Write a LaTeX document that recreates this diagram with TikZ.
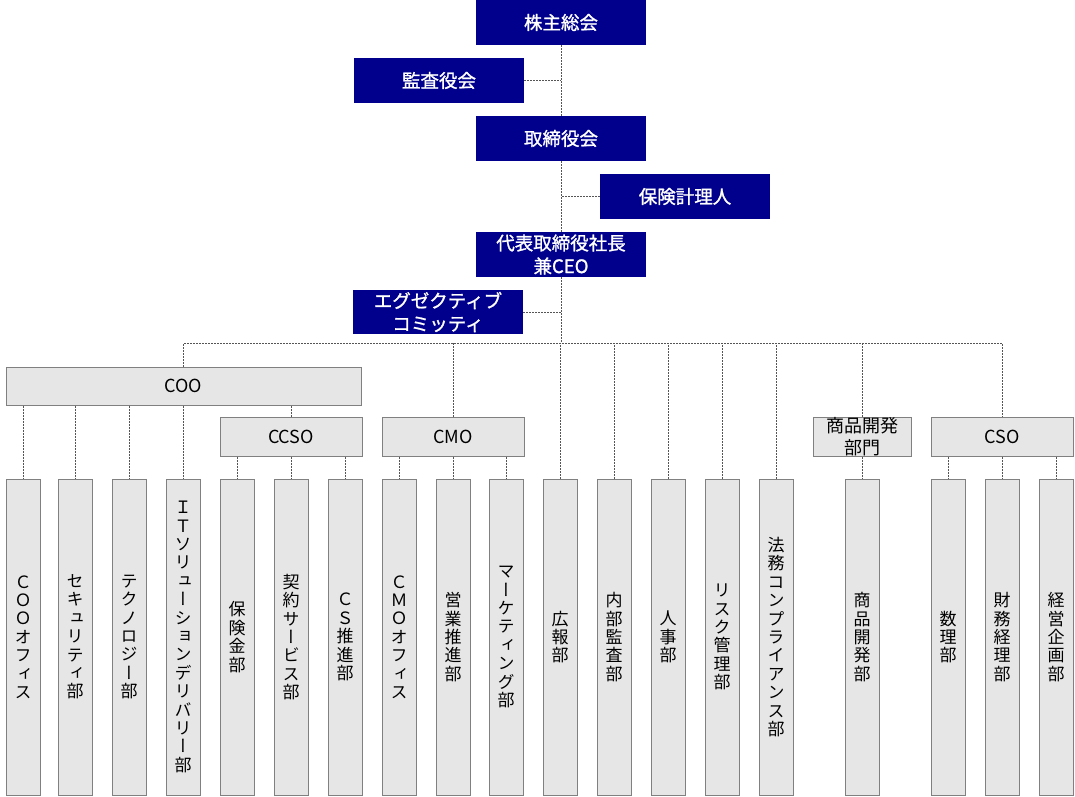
\documentclass[tikz,border=0pt]{standalone}
\usepackage{fontspec}
\usepackage{tikz}
\setmainfont{Noto Sans CJK JP}
\newfontfamily\tatefont[RawFeature=+vert]{Noto Sans CJK JP}
\newfontfamily\boardfont[FakeBold=1.2]{Noto Sans CJK JP}
\definecolor{boardblue}{RGB}{0,0,140}
\definecolor{boxfill}{RGB}{230,230,230}
\definecolor{boxline}{RGB}{128,128,128}
\definecolor{linkgray}{RGB}{85,85,85}
\def\tate#1{\tateaux#1\tateend}
\def\tateaux#1#2\tateend{#1\ifx\tateend#2\tateend\else\\\tateaux#2\tateend\fi}
\tikzset{
    topbox/.style={fill=boardblue,text=white,inner sep=0pt,minimum width=170pt,minimum height=45pt,align=center,font=\boardfont\fontsize{18.5}{23}\selectfont},
    headbox/.style={draw=boxline,fill=boxfill,line width=1pt,inner sep=0pt,minimum height=39pt,align=center,font=\fontsize{18}{21.5}\selectfont},
    deptbox/.style={draw=boxline,fill=boxfill,line width=1pt,inner sep=0pt,minimum width=34pt,minimum height=316pt,align=center,font=\tatefont\fontsize{17}{18.4}\selectfont},
    link/.style={draw=linkgray,line width=0.8pt,dash pattern=on 2pt off 1pt}
}

\begin{document}
\begin{tikzpicture}[x=1pt,y=-1pt]
                \useasboundingbox (0,0) rectangle (1075,796);
                \node[topbox] (gm) at (561,22.5) {株主総会};
                \node[topbox] (audit) at (439,80.5) {監査役会};
                \node[topbox] (bod) at (561,138.5) {取締役会};
                \node[topbox] (actuary) at (685,196.5) {保険計理人};
                \node[topbox] (ceo) at (561,254.5) {代表取締役社長\\兼CEO};
                \node[topbox,minimum height=44pt] (exec) at (438,312) {エグゼクティブ\\コミッティ};
                \coordinate (bus) at (561,343);

                \node[headbox,minimum width=355pt,minimum height=38pt] (coo) at (183.5,386) {COO};
                \node[headbox,minimum width=142pt] (ccso) at (291,436.5) {CCSO};
                \node[headbox,minimum width=142pt] (cmo) at (453,436.5) {CMO};
                \node[headbox,minimum width=98pt] (pdg) at (862,436.5) {商品開発\\部門};
                \node[headbox,minimum width=142pt] (cso) at (1002,436.5) {CSO};

                \foreach \n/\x/\t in {1/23/ＣＯＯオフィス,2/75/セキュリティ部,3/129/テクノロジー部,
                    4/183/ＩＴソリューションデリバリー部,5/237/保険金部,6/291/契約サービス部,
                    7/345/ＣＳ推進部,8/399/ＣＭＯオフィス,9/453/営業推進部,10/506/マーケティング部,
                    11/560/広報部,12/614/内部監査部,13/668/人事部,14/722/リスク管理部,
                    15/776/法務コンプライアンス部,16/862/商品開発部,17/948/数理部,
                    18/1002/財務経理部,19/1056/経営企画部}
                    \node[deptbox] (d\n) at (\x,637) {\expandafter\tate\expandafter{\t}};

                \draw[link] (gm) -- (bod);
                \draw[link] (bod) -- (ceo);
                \draw[link] (ceo) -- (bus);
                \draw[link] (audit.east) -- (audit.east -| gm.south);
                \draw[link] (actuary.west) -- (actuary.west -| gm.south);
                \draw[link] (exec.east) -- (exec.east -| gm.south);
                \draw[link] (coo.north) |- (bus) -| (cso.north);
                \draw[link] (cmo.north) -- (cmo.north |- bus);
                \draw[link] (pdg.north) -- (pdg.north |- bus);
                \draw[link] (pdg) -- (d16);
                \foreach \n in {11,...,15}
                    \draw[link] (d\n.north) -- (d\n.north |- bus);
                \draw[link] (coo.south -| ccso.north) -- (ccso.north);
                \foreach \n in {1,...,4}
                    \draw[link] (coo.south -| d\n.north) -- (d\n.north);
                \foreach \n in {5,6,7}
                    \draw[link] (ccso.south -| d\n.north) -- (d\n.north);
                \foreach \n in {8,9,10}
                    \draw[link] (cmo.south -| d\n.north) -- (d\n.north);
                \foreach \n in {17,18,19}
                    \draw[link] (cso.south -| d\n.north) -- (d\n.north);
            \end{tikzpicture}
\end{document}
